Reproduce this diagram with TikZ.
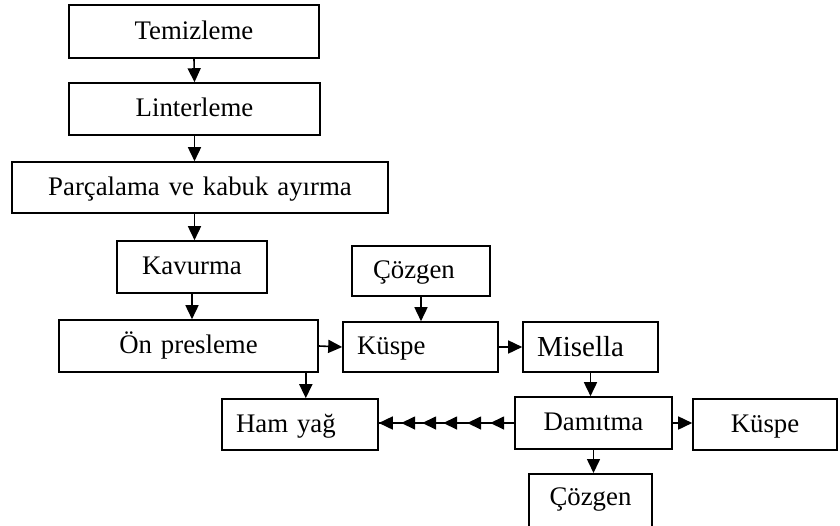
\documentclass[tikz,border=0pt]{standalone}
\usepackage{fontspec}
\setmainfont{Liberation Serif}
\usetikzlibrary{arrows.meta,calc,decorations.markings}
\newcommand\boxstrut{\rule[-9pt]{0pt}{33pt}}
\begin{document}
\begin{tikzpicture}[x=1pt,y=-1pt,
  box/.style={draw,line width=1.6pt,rectangle,inner ysep=0pt,inner xsep=0pt,
    font=\fontsize{26.8}{32}\selectfont,align=center,execute at begin node=\boxstrut},
  arr/.style={line width=1.6pt,-{Triangle[length=14pt,width=13pt]}},
  multi/.style={line width=1.6pt,postaction={decorate},
    decoration={markings,
      mark=at position 24pt with {\arrow{Triangle[length=14pt,width=13pt]}},
      mark=at position 47pt with {\arrow{Triangle[length=14pt,width=13pt]}},
      mark=at position 71pt with {\arrow{Triangle[length=14pt,width=13pt]}},
      mark=at position 92pt with {\arrow{Triangle[length=14pt,width=13pt]}},
      mark=at position 113pt with {\arrow{Triangle[length=14pt,width=13pt]}},
      mark=at position 1 with {\arrow{Triangle[length=14pt,width=13pt]}}}}]
\useasboundingbox (0,0) rectangle (840,525);
\clip (0,0) rectangle (840,525);
\node[box,minimum width=250pt,minimum height=53pt,text width=250pt] (T) at (194,31.5) {Temizleme};
\node[box,minimum width=251pt,minimum height=52pt,text width=251pt] (L) at (194.5,109) {Linterleme};
\node[box,minimum width=376pt,minimum height=51pt,text width=376pt] (P) at (200,187.5) {Parçalama ve kabuk ayırma};
\node[box,minimum width=150pt,minimum height=52pt,text width=150pt] (K) at (192,267) {Kavurma};
\node[box,minimum width=259pt,minimum height=52pt,text width=259pt] (O) at (188.5,346) {Ön presleme};
\node[box,minimum width=138pt,minimum height=50pt,inner xsep=21pt,text width=96pt,align=left] (C1) at (421,271) {Çözgen};
\node[box,minimum width=155pt,minimum height=50pt,inner xsep=14pt,text width=127pt,align=left] (K1) at (420.5,347) {Küspe};
\node[box,minimum width=135pt,minimum height=50pt,inner xsep=14pt,text width=107pt,align=left,font=\fontsize{29}{36}\selectfont] (M) at (590.5,347) {\rule[-8pt]{0pt}{35.4pt}Misella};
\node[box,minimum width=157pt,minimum height=52pt,text width=157pt] (D) at (593.5,423) {Damıtma};
\node[box,minimum width=144pt,minimum height=51pt,text width=144pt] (K2) at (765,424.5) {Küspe};
\node[box,minimum width=156pt,minimum height=51pt,inner xsep=14pt,text width=128pt,align=left] (H) at (300,424.5) {Ham yağ};
\node[box,minimum width=123pt,minimum height=60pt,text width=123pt,anchor=north] (C2) at (590.5,473) {\raisebox{5.5pt}{Çözgen}};
\draw[arr] (T.south) -- (L.north);
\draw[arr] (L.south) -- (L.south |- P.north);
\draw[arr] (L.south |- P.south) -- (L.south |- K.north);
\draw[arr] (K.south) -- (K.south |- O.north);
\draw[arr] (C1.south) -- (C1.south |- K1.north);
\draw[arr] (O.east) -- (K1.west);
\draw[arr] (K1.east) -- (M.west);
\draw[arr] (M.south) -- (M.south |- D.north);
\coordinate (Os) at ($(O.south east)+(-13,0)$);
\draw[arr] (Os) -- (Os |- H.north);
\draw[arr] (D.east) -- (D.east -| K2.west);
\draw[arr] (D.south) -- (D.south |- C2.north);
\draw[multi] (D.west) -- (D.west -| H.east);
\end{tikzpicture}
\end{document}
